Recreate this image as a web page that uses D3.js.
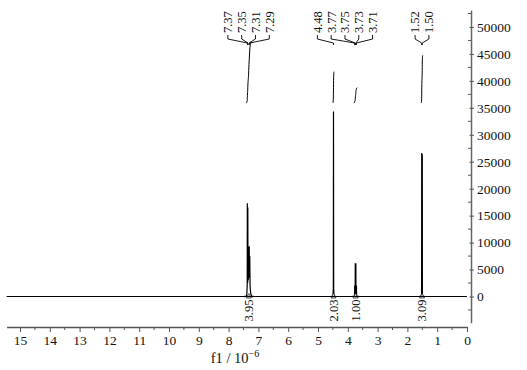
<!DOCTYPE html>
<html><head><meta charset="utf-8">
<script src="https://cdn.jsdelivr.net/npm/d3@7"></script>
<style>body{margin:0;background:#fff}svg{display:block}text{font-family:"Liberation Serif","Times New Roman",serif;fill:#111}</style>
</head><body>
<svg id="c" width="527" height="370"></svg>
<script>
// ---- data ----
const xTicks = d3.range(0, 16, 1);
const yTicks = d3.range(0, 50001, 5000);
// spectrum: [ppm, intensity]
const spectrum = [
  [15.45,0],[7.42,0],[7.39,300],[7.376,2000],[7.372,17300],[7.368,3000],[7.36,2500],[7.355,16500],[7.35,4000],
  [7.34,3000],[7.333,6500],[7.325,9200],[7.316,4000],[7.308,9300],[7.30,3500],[7.29,7500],[7.28,2000],[7.26,600],[7.22,0],
  [4.50,0],[4.486,1500],[4.48,34300],[4.474,1500],[4.46,0],
  [3.80,0],[3.772,200],[3.77,2050],[3.765,300],[3.753,400],[3.75,6150],[3.745,600],[3.733,600],[3.73,6150],
  [3.725,400],[3.713,300],[3.71,2050],[3.705,200],[3.68,0],
  [1.54,0],[1.523,500],[1.52,26600],[1.514,1500],[1.506,1500],[1.50,26400],[1.497,500],[1.48,0],[0,0]
];
const peakGroups = [
  [7.37,7.35,7.31,7.29],
  [4.48,3.77,3.75,3.73,3.71],
  [1.52,1.50]
];
const integralRanges = [[7.42,7.22],[4.50,4.46],[3.80,3.68],[1.54,1.48]];
const integralValues = [3.95,2.03,1.00,3.09];
const integralLabels = ["3.95","2.03","1.00","3.09"];

// ---- layout ----
const FONT = "Liberation Serif";
const svg = d3.select("#c");
const x = d3.scaleLinear().domain([15.45,0]).range([6.6,467]);
const y = d3.scaleLinear().domain([-4860,53150]).range([322.7,10]);
const yInt = d3.scaleLinear().domain([0,3.95]).range([103,42]);
const interp = ppm => {
  for (let i=0;i<spectrum.length-1;i++){
    const a=spectrum[i], b=spectrum[i+1];
    if (ppm<=a[0] && ppm>=b[0]) { const t=(a[0]-ppm)/(a[0]-b[0]||1); return a[1]+(b[1]-a[1])*t; }
  }
  return 0;
};

// x axis
const xAxisY = 327;
const gx = svg.append("g").attr("transform",`translate(0,${xAxisY})`)
  .call(d3.axisBottom(x).tickValues(xTicks).tickSize(5).tickSizeOuter(0).tickPadding(3).tickFormat(d3.format("d")));
gx.attr("font-family",FONT);
gx.select(".domain").attr("stroke","#555").attr("stroke-width",1.5);
gx.selectAll(".tick line").attr("stroke","#555");
gx.selectAll("text").attr("font-size",13.5).attr("font-family",FONT).attr("fill","#111");
gx.selectAll(".minor").data(d3.range(0.5,15.5,1)).enter().append("line")
  .attr("x1",d=>x(d)).attr("x2",d=>x(d)).attr("y1",0).attr("y2",3).attr("stroke","#555");

const title = svg.append("text").attr("x",235).attr("y",363).attr("text-anchor","middle").attr("font-size",14.5).attr("font-family",FONT);
title.append("tspan").text("f1 / 10");
title.append("tspan").attr("dy",-6).attr("font-size",10).text("\u22126");

// y axis
const yAxisX = 471;
const gy = svg.append("g").attr("transform",`translate(${yAxisX},0)`)
  .call(d3.axisRight(y).tickValues(yTicks).tickSize(3).tickSizeOuter(0).tickPadding(3).tickFormat(d3.format("d")));
gy.attr("font-family",FONT);
gy.select(".domain").attr("stroke","#666").attr("stroke-width",1.5);
gy.selectAll(".tick line").attr("stroke","#555").attr("x1",-1.5);
gy.selectAll("text").attr("font-size",13.5).attr("font-family",FONT).attr("fill","#111");
gy.selectAll(".minor").data(d3.range(-2500,52501,5000)).enter().append("line")
  .attr("x1",-3).attr("x2",0).attr("y1",d=>y(d)).attr("y2",d=>y(d)).attr("stroke","#555");

// spectrum
const line = d3.line().x(d=>x(d[0])).y(d=>y(d[1]));
svg.append("path").datum(spectrum).attr("d",line).attr("fill","none").attr("stroke","#000").attr("stroke-width",1.2);

// integrals
integralRanges.forEach((r,i)=>{
  const pts = spectrum.filter(p=>p[0]<=r[0] && p[0]>=r[1]);
  const all = [[r[0],interp(r[0])],...pts,[r[1],interp(r[1])]];
  let cum=0; const c=[[all[0][0],0]];
  for (let k=1;k<all.length;k++){ cum += (all[k-1][0]-all[k][0])*(all[k-1][1]+all[k][1])/2; c.push([all[k][0],cum]); }
  const cv = c.map(p=>[p[0], p[1]/cum*integralValues[i]]);
  svg.append("path").datum(cv)
    .attr("d",d3.line().x(d=>x(d[0])).y(d=>yInt(d[1])).curve(d3.curveBasis))
    .attr("fill","none").attr("stroke","#000").attr("stroke-width",1);
  const mid = (r[0]+r[1])/2;
  // baseline marker
  svg.append("path").attr("d",`M${x(mid)-2.5},${y(0)+1.5}L${x(mid)},${y(0)-3}L${x(mid)+2.5},${y(0)+1.5}Z`)
    .attr("fill","#fff").attr("stroke","#333").attr("stroke-width",0.8);
  svg.append("line").attr("x1",x(r[0])-2).attr("x2",x(r[1])+2).attr("y1",y(0)).attr("y2",y(0)).attr("stroke","#000").attr("stroke-width",1.3);
  svg.append("text").attr("transform",`translate(${x(mid)},${y(0)+3}) rotate(-90)`)
    .attr("text-anchor","end").attr("dy","0.35em").attr("font-size",12.5).attr("font-family",FONT).text(integralLabels[i]);
});

// peak labels
const spacing = 13.8, labBottom = 33;
peakGroups.forEach(g=>{
  const cx = x((g[0]+g[g.length-1])/2);
  g.forEach((p,j)=>{
    const lx = cx + (j-(g.length-1)/2)*spacing;
    svg.append("text").attr("transform",`translate(${lx},${labBottom}) rotate(-90)`)
      .attr("text-anchor","start").attr("dy","0.35em").attr("font-size",12.5).attr("font-family",FONT).text(p.toFixed(2));
    svg.append("path").attr("d",`M${lx},${labBottom+2}L${lx},${labBottom+6}L${x(p)},${labBottom+10}L${x(p)},${labBottom+12}`)
      .attr("fill","none").attr("stroke","#000").attr("stroke-width",0.9);
  });
});
</script>
</body></html>
